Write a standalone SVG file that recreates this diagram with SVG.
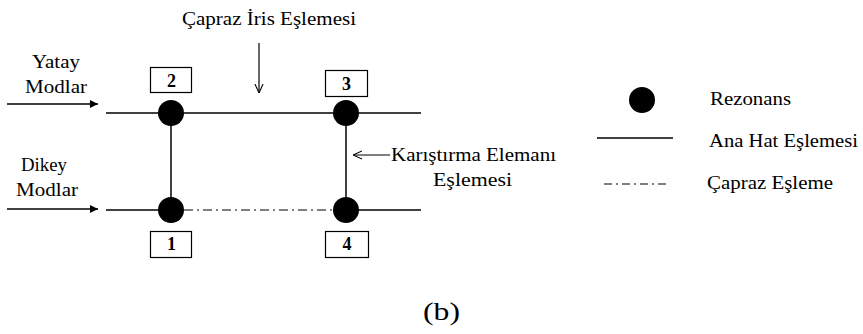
<svg xmlns="http://www.w3.org/2000/svg" width="863" height="334" viewBox="0 0 863 334">
  <defs>
    <marker id="fill-arrow" viewBox="0 0 10 10" refX="10" refY="5" markerWidth="10" markerHeight="8" markerUnits="userSpaceOnUse" orient="auto">
      <path d="M0,0 L10,5 L0,10 Z" fill="#000"/>
    </marker>
    <marker id="open-arrow" viewBox="0 0 10 10" refX="10" refY="5" markerWidth="9" markerHeight="10" markerUnits="userSpaceOnUse" orient="auto">
      <path d="M0,0.5 L10,5 L0,9.5" fill="none" stroke="#000" stroke-width="1.2"/>
    </marker>
  </defs>
  <style>
    .t { font-family: "Liberation Serif", "Times New Roman", serif; font-size: 19px; fill: #000; }
    .num { font-family: "Liberation Serif", "Times New Roman", serif; font-size: 18px; font-weight: bold; fill: #000; text-anchor: middle; }
    .line { stroke: #000; stroke-width: 1.5; fill: none; }
    .dashdot { stroke: #000; stroke-width: 1.2; fill: none; stroke-dasharray: 9 4 2 4; }
    .box { fill: #fff; stroke: #000; stroke-width: 1.2; }
    .res { fill: #000; }
  </style>
  <rect width="863" height="334" fill="#fff"/>

  <!-- couplings and input arrows -->
  <g id="connectors">
    <line class="line" x1="106" y1="113" x2="421" y2="113"/>
    <line class="line" x1="106" y1="210" x2="171" y2="210"/>
    <line class="line" x1="346" y1="210" x2="421" y2="210"/>
    <line class="dashdot" x1="184" y1="210" x2="334" y2="210"/>
    <line class="line" x1="171" y1="113" x2="171" y2="210"/>
    <line class="line" x1="346" y1="113" x2="346" y2="210"/>
    <line class="line" x1="7" y1="104" x2="98" y2="104" marker-end="url(#fill-arrow)"/>
    <line class="line" x1="7" y1="209" x2="98" y2="209" marker-end="url(#fill-arrow)"/>
    <line class="line" x1="259" y1="43" x2="259" y2="93" marker-end="url(#open-arrow)" style="stroke-width:1.2"/>
    <line class="line" x1="390" y1="155" x2="353" y2="155" marker-end="url(#open-arrow)" style="stroke-width:1.2"/>
  </g>

  <!-- resonators -->
  <g id="node-2">
    <circle class="res" cx="171" cy="113" r="13"/>
    <rect class="box" x="150.5" y="67.5" width="41" height="25"/>
    <text class="num" x="171.5" y="87">2</text>
  </g>
  <g id="node-3">
    <circle class="res" cx="346" cy="113" r="13"/>
    <rect class="box" x="325.5" y="70.5" width="42" height="26"/>
    <text class="num" x="346.5" y="90">3</text>
  </g>
  <g id="node-1">
    <circle class="res" cx="171" cy="210" r="13"/>
    <rect class="box" x="150.5" y="231.5" width="41" height="26"/>
    <text class="num" x="171.5" y="250">1</text>
  </g>
  <g id="node-4">
    <circle class="res" cx="346" cy="210" r="13"/>
    <rect class="box" x="325.5" y="231.5" width="43" height="26"/>
    <text class="num" x="347" y="250">4</text>
  </g>

  <!-- labels -->
  <g id="labels">
    <text class="t" x="182" y="25" textLength="174" lengthAdjust="spacingAndGlyphs">Çapraz İris Eşlemesi</text>
    <text class="t" x="32" y="68" textLength="48" lengthAdjust="spacingAndGlyphs">Yatay</text>
    <text class="t" x="25" y="93" textLength="62" lengthAdjust="spacingAndGlyphs">Modlar</text>
    <text class="t" x="21" y="171" textLength="46" lengthAdjust="spacingAndGlyphs">Dikey</text>
    <text class="t" x="16" y="196" textLength="62" lengthAdjust="spacingAndGlyphs">Modlar</text>
    <text class="t" x="391" y="161" textLength="165" lengthAdjust="spacingAndGlyphs">Karıştırma Elemanı</text>
    <text class="t" x="433" y="186" textLength="79" lengthAdjust="spacingAndGlyphs">Eşlemesi</text>
    <text x="423" y="320" textLength="37" lengthAdjust="spacingAndGlyphs" style="font-family:'Liberation Serif','Times New Roman',serif;font-size:25px;fill:#000">(b)</text>
  </g>

  <!-- legend -->
  <g id="legend">
    <circle class="res" cx="642" cy="100" r="13"/>
    <text class="t" x="710" y="105" textLength="81" lengthAdjust="spacingAndGlyphs">Rezonans</text>
    <line class="line" x1="597" y1="138" x2="673" y2="138"/>
    <text class="t" x="709" y="147" textLength="149" lengthAdjust="spacingAndGlyphs">Ana Hat Eşlemesi</text>
    <line class="dashdot" x1="604" y1="184" x2="667" y2="184" style="stroke-dasharray:8 4 2 4"/>
    <text class="t" x="707" y="189" textLength="126" lengthAdjust="spacingAndGlyphs">Çapraz Eşleme</text>
  </g>
</svg>
